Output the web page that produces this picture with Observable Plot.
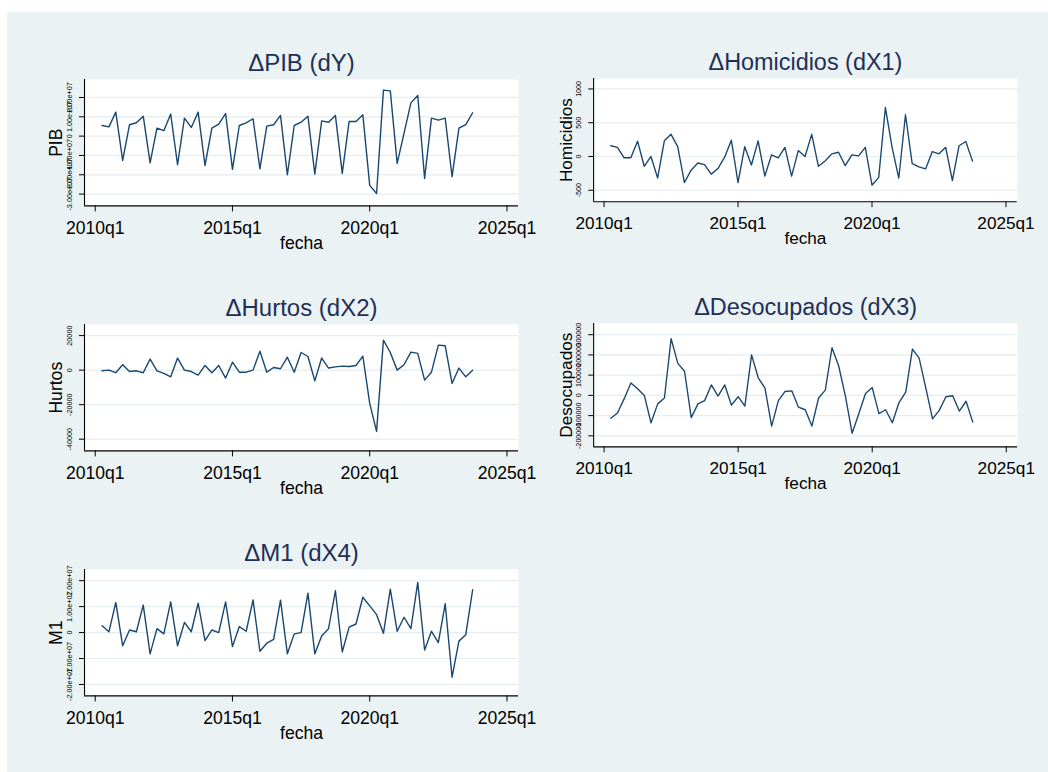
<!DOCTYPE html>
<html>
<head>
<meta charset="utf-8">
<script src="https://cdn.jsdelivr.net/npm/d3@7"></script>
<script src="https://cdn.jsdelivr.net/npm/@observablehq/plot@0.6"></script>
<style>
  html, body { margin: 0; padding: 0; background: #ffffff; }
  #page { position: relative; width: 1048px; height: 772px; overflow: hidden; background: #ffffff;
          font-family: "Liberation Sans", Arial, sans-serif; }
  #bg { position: absolute; left: 7px; top: 12px; right: 0; bottom: 0; background: #eaf2f3; }
  .panel { position: absolute; }
  .panel svg { overflow: visible; }
</style>
</head>
<body>
<div id="page"><div id="bg"></div></div>
<script>
// ---- Data ----
const quarters = [
  "2010q2","2010q3","2010q4",
  "2011q1","2011q2","2011q3","2011q4",
  "2012q1","2012q2","2012q3","2012q4",
  "2013q1","2013q2","2013q3","2013q4",
  "2014q1","2014q2","2014q3","2014q4",
  "2015q1","2015q2","2015q3","2015q4",
  "2016q1","2016q2","2016q3","2016q4",
  "2017q1","2017q2","2017q3","2017q4",
  "2018q1","2018q2","2018q3","2018q4",
  "2019q1","2019q2","2019q3","2019q4",
  "2020q1","2020q2","2020q3","2020q4",
  "2021q1","2021q2","2021q3","2021q4",
  "2022q1","2022q2","2022q3","2022q4",
  "2023q1","2023q2","2023q3","2023q4"
];

const dPIB = [
  5.5e6, 4.8e6, 1.24e7,
  -1.26e7, 5.9e6, 6.9e6, 1.03e7,
  -1.38e7, 4.1e6, 2.8e6, 1.14e7,
  -1.48e7, 9.3e6, 4.5e6, 1.24e7,
  -1.52e7, 4.1e6, 6.2e6, 1.17e7,
  -1.72e7, 5.5e6, 6.9e6, 9.0e6,
  -1.69e7, 5.2e6, 5.9e6, 1.07e7,
  -2.00e7, 5.5e6, 7.2e6, 1.03e7,
  -1.97e7, 7.9e6, 7.2e6, 1.07e7,
  -1.93e7, 7.6e6, 7.6e6, 1.10e7,
  -2.55e7, -2.97e7, 2.38e7, 2.34e7,
  -1.41e7, 1.4e6, 1.72e7, 2.10e7,
  -2.19e7, 9.3e6, 8.3e6, 9.3e6,
  -2.10e7, 4.1e6, 5.9e6, 1.21e7
];

const dHomicidios = [
  159, 135, -19,
  -19, 227, -145, 0,
  -319, 232, 328, 145,
  -386, -203, -97, -121,
  -261, -179, -10, 242,
  -386, 145, -126, 232,
  -290, 24, -19, 135,
  -290, 87, 0, 328,
  -145, -68, 39, 63,
  -135, 24, 10, 135,
  -425, -309, 725, 135,
  -319, 618, -106, -155,
  -184, 72, 39, 135,
  -357, 159, 222, -68
];

const dHurtos = [
  -400, 0, -1500,
  3100, -800, -400, -1500,
  6400, -400, -1900, -3900,
  7000, 0, -800, -2900,
  2700, -1500, 2700, -4600,
  4600, -1200, -1200, 0,
  11000, -1200, 1500, 800,
  7500, -1200, 10200, 7900,
  -6200, 7000, 1200, 1900,
  2300, 2100, 2700, 8100,
  -19300, -35500, 17400, 10200,
  0, 3100, 10400, 9700,
  -5800, -1200, 14500, 14100,
  -7700, 1200, -3900, 0
];

const dDesocupados = [
  -112900, -87100, -16100,
  61300, 32300, 0, -135500,
  -41900, -12900, 280700, 158100,
  119400, -109700, -41900, -25800,
  51600, -3200, 51600, -48400,
  -6500, -53200, 200000, 87100,
  35500, -151600, -25800, 19400,
  22600, -58100, -71000, -151600,
  -12900, 25800, 235500, 145200,
  -3200, -187100, -90300, 9700,
  38700, -90300, -71000, -135500,
  -35500, 16100, 229000, 183900,
  35500, -116100, -74200, -6500,
  -1600, -77400, -29000, -132300
];

const dM1 = [
  2.6e6, 3e5, 1.16e7,
  -5.1e6, 1.0e6, 3e5, 1.06e7,
  -8.2e6, 1.5e6, -5e5, 1.18e7,
  -5.1e6, 3.9e6, 3e5, 1.13e7,
  -3.1e6, 1.0e6, 0, 1.18e7,
  -5.4e6, 2.3e6, 5e5, 1.26e7,
  -7.2e6, -4.1e6, -2.6e6, 1.25e7,
  -8.2e6, -5e5, 0, 1.52e7,
  -8.2e6, -1.3e6, 1.5e6, 1.61e7,
  -7.5e6, 2.1e6, 3.3e6, 1.36e7,
  1.03e7, 6.9e6, -3e5, 1.67e7,
  5e5, 5.9e6, 1.5e6, 1.93e7,
  -6.7e6, 5e5, -3.9e6, 1.11e7,
  -1.72e7, -3.3e6, -8e5, 1.65e7
];

const xTicks = [2010, 2015, 2020, 2025];
const pibTicks = [-3e7, -2e7, -1e7, 0, 1e7, 2e7];
const homTicks = [-500, 0, 500, 1000];
const hurTicks = [-40000, -20000, 0, 20000];
const desTicks = [-200000, -100000, 0, 100000, 200000, 300000];
const m1Ticks = [-2e7, -1e7, 0, 1e7, 2e7];

// ---- Helpers ----
const FONT = "\"Liberation Sans\", Arial, sans-serif";
const qToNum = s => +s.slice(0, 4) + (+s.slice(5) - 1) / 4;
const fmtExp = d => d === 0 ? "0" : d.toExponential(2).replace(/e([+-])(\d)$/, "e$10$2");
const fmtInt = d => String(d);

const FRAME_W = 434, FRAME_H = 126.4;
const ML = 80, MT = 45, MR = 32, MB = 60;
const xDomain = [2009.61, 2025.42];

function panel({title, ylabel, values, yDomain, yTicks, yFmt, axisX, frameTop}) {
  const rows = quarters.map((q, i) => ({t: qToNum(q), v: values[i]}));
  const chart = Plot.plot({
    width: ML + FRAME_W + MR,
    height: MT + FRAME_H + MB,
    marginLeft: ML, marginTop: MT, marginRight: MR, marginBottom: MB,
    style: {background: "transparent", fontFamily: FONT, color: "#000", overflow: "visible"},
    x: {domain: xDomain},
    y: {domain: yDomain},
    marks: [
      Plot.frame({fill: "white", stroke: "none"}),
      Plot.gridY(yTicks, {stroke: "#e4edef", strokeOpacity: 1, strokeWidth: 1.2}),
      Plot.ruleX([xDomain[0]], {stroke: "#000", strokeWidth: 1.1}),
      Plot.ruleY([yDomain[0]], {stroke: "#000", strokeWidth: 1.1}),
      Plot.axisX({ticks: xTicks, tickFormat: d => `${d}q1`, tickSize: 6, tickPadding: 9.5,
                  fontSize: 17.6, label: null, stroke: "#000", fill: "#000"}),
      Plot.axisY({ticks: yTicks, tickFormat: yFmt, tickSize: 5, tickPadding: 8, tickRotate: -90,
                  fontSize: 7.3, label: null, stroke: "#000", fill: "#000"}),
      Plot.lineY(rows, {x: "t", y: "v", stroke: "#1a476f", strokeWidth: 1.4}),
      Plot.text([title], {text: d => d, frameAnchor: "top", dy: -8.6, lineAnchor: "bottom",
                          textAnchor: "middle", fontSize: 24, fill: "#1f2f58"}),
      Plot.text([ylabel], {text: d => d, frameAnchor: "left", dx: -22.5, rotate: -90,
                           textAnchor: "middle", lineAnchor: "bottom", fontSize: 17.6, fill: "#000"}),
      Plot.text(["fecha"], {text: d => d, frameAnchor: "bottom", dy: 43.6, lineAnchor: "bottom",
                            textAnchor: "middle", fontSize: 17.6, fill: "#000"})
    ]
  });
  const wrap = document.createElement("div");
  wrap.className = "panel";
  wrap.style.left = (axisX - ML) + "px";
  wrap.style.top = (frameTop - MT) + "px";
  wrap.appendChild(chart);
  document.getElementById("page").appendChild(wrap);
}

panel({title: "ΔPIB (dY)", ylabel: "PIB", values: dPIB,
       yDomain: [-3.61e7, 2.93e7], yTicks: pibTicks, yFmt: fmtExp, axisX: 84.3, frameTop: 79.3});
panel({title: "ΔHomicidios (dX1)", ylabel: "Homicidios", values: dHomicidios,
       yDomain: [-671, 1156], yTicks: homTicks, yFmt: fmtInt, axisX: 595, frameTop: 79.3});
panel({title: "ΔHurtos (dX2)", ylabel: "Hurtos", values: dHurtos,
       yDomain: [-46780, 26430], yTicks: hurTicks, yFmt: fmtInt, axisX: 84.3, frameTop: 323.7});
panel({title: "ΔDesocupados (dX3)", ylabel: "Desocupados", values: dDesocupados,
       yDomain: [-254600, 355600], yTicks: desTicks, yFmt: fmtInt, axisX: 594.7, frameTop: 323.7});
panel({title: "ΔM1 (dX4)", ylabel: "M1", values: dM1,
       yDomain: [-2.44e7, 2.43e7], yTicks: m1Ticks, yFmt: fmtExp, axisX: 84.3, frameTop: 568.7});
</script>
</body>
</html>
